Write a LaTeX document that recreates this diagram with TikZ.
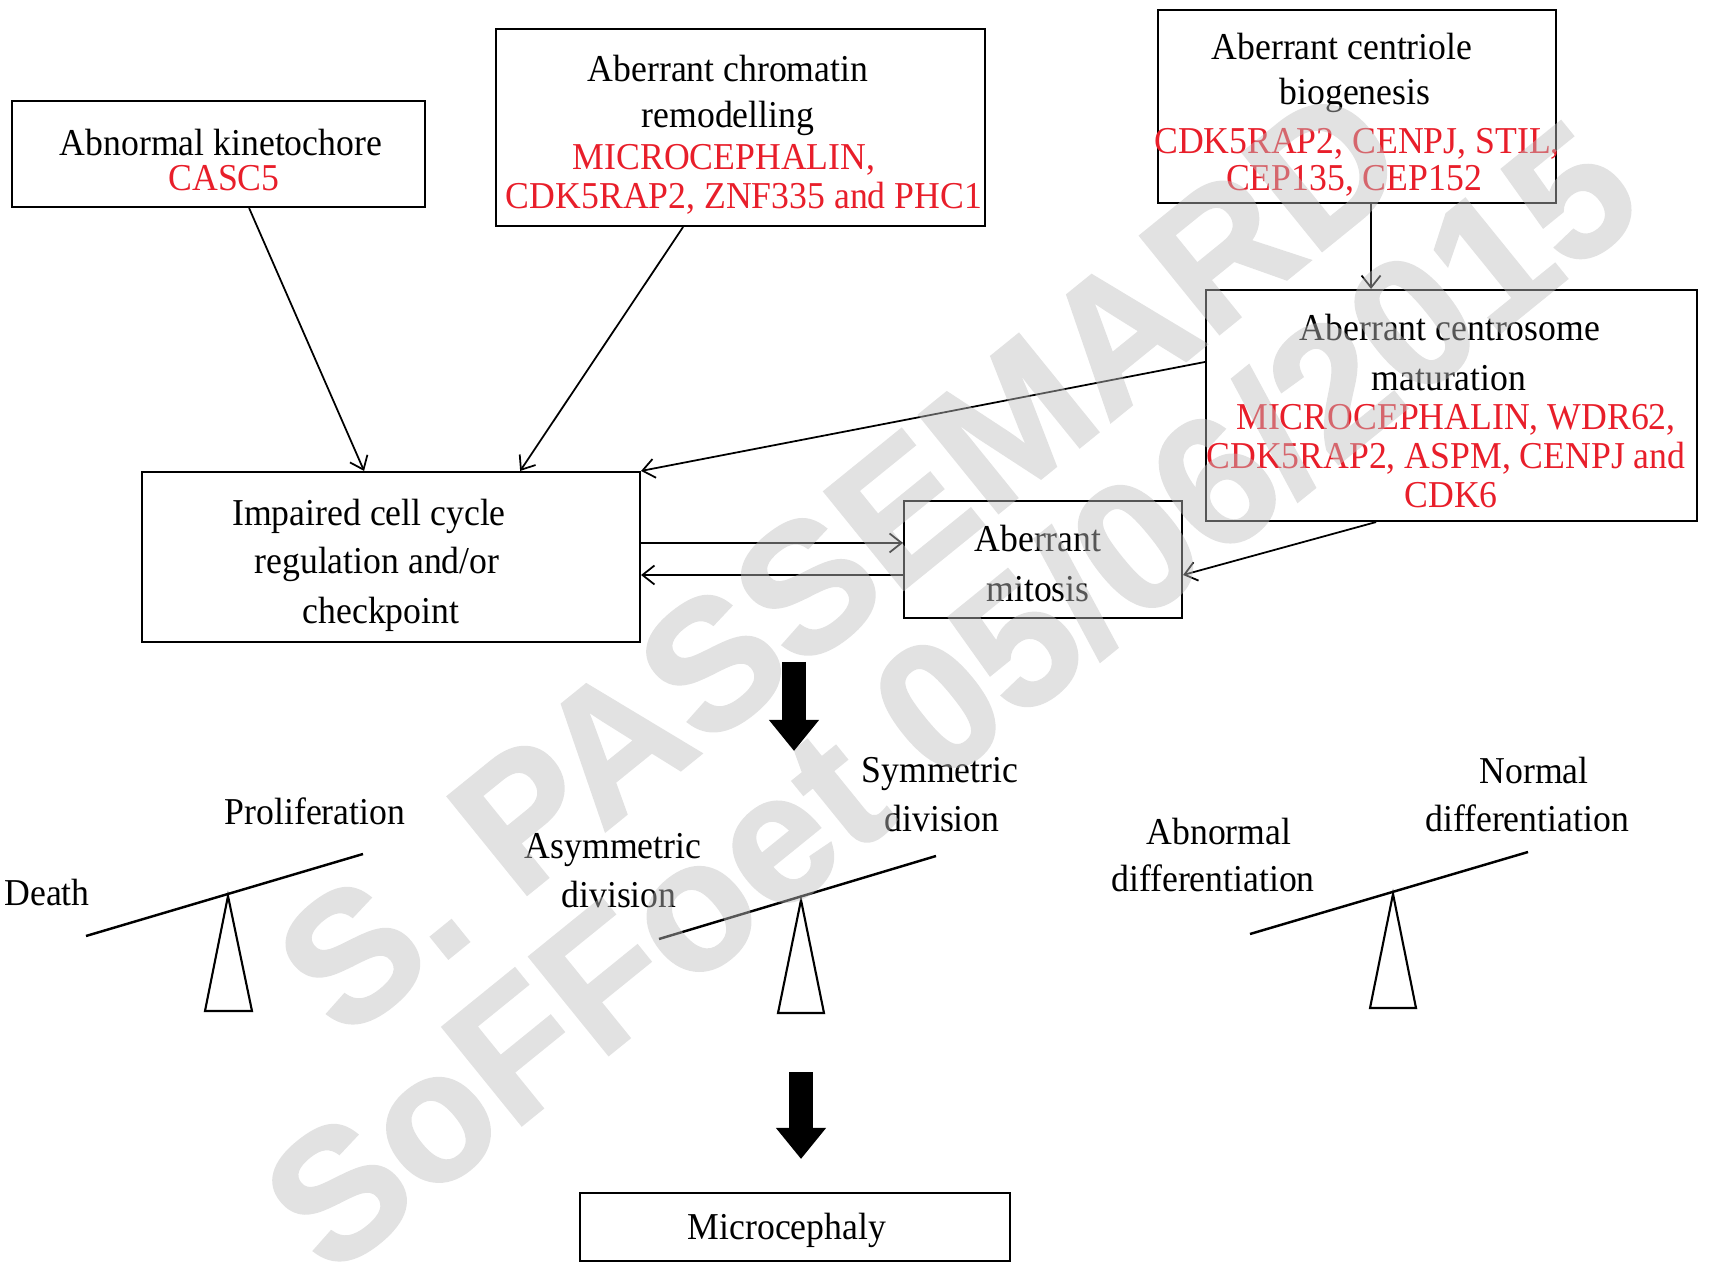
\documentclass[tikz,border=0pt]{standalone}
\usepackage{fontspec}
\setmainfont[FakeStretch=0.94]{Liberation Serif}
\setsansfont{Liberation Sans}
\newfontfamily\wmfont[BoldFeatures={FakeBold=1.5}]{Liberation Sans}
\usetikzlibrary{arrows.meta,fit,calc}
\definecolor{gred}{RGB}{232,30,42}
\begin{document}
\begin{tikzpicture}[x=0.01cm,y=-0.01cm,
  box/.style={draw, line width=0.6pt, inner sep=0pt},
  txt/.style={anchor=base, inner sep=0pt, font=\fontsize{10.8}{12}\selectfont},
  gtxt/.style={txt, text=gred},
  arr/.style={line width=0.5pt, -{Straight Barb[length=1.2mm,width=1.9mm]}},
  beam/.style={line width=0.7pt},
  fulcrum/.style={draw, line width=0.6pt, fill=white, line join=miter},
  bigarr/.style={line width=2.4mm, -{Triangle[length=3.1mm,width=4.8mm]}},
  wm/.style={align=center, text=black!25, inner sep=0pt,
    font=\wmfont\bfseries\fontsize{52}{50}\selectfont}
]
\useasboundingbox (0,0) rectangle (1710,1268);

% boxes
\node[box, fit={(12,101) (425,207)}] (A) {};
\node[box, fit={(496,29) (985,226)}] (B) {};
\node[box, fit={(1158,10) (1556,203)}] (C) {};
\node[box, fit={(1206,290) (1697,521)}] (D) {};
\node[box, fit={(142,472) (640,642)}] (E) {};
\node[box, fit={(904,501) (1182,618)}] (F) {};
\node[box, fit={(580,1193) (1010,1261)}] (G) {};

% box texts
\node[txt] (A1) at (221,156) {Abnormal kinetochore};
\node[gtxt] (A2) at (224,191) {CASC5};

\node[txt] (B1) at (728,82) {Aberrant chromatin};
\node[txt] (B2) at (728,128) {remodelling};
\node[gtxt] (B3) at (724,170) {MICROCEPHALIN,};
\node[gtxt] (B4) at (744,209) {CDK5RAP2, ZNF335 and PHC1};

\node[txt] (C1) at (1342,60) {Aberrant centriole};
\node[txt] (C2) at (1355,105) {biogenesis};
\node[gtxt] (C3) at (1357,154) {CDK5RAP2, CENPJ, STIL,};
\node[gtxt] (C4) at (1354,191) {CEP135, CEP152};

\node[txt] (D1) at (1450,341) {Aberrant centrosome};
\node[txt] (D2) at (1449,391) {maturation};
\node[gtxt] (D3) at (1456,430) {MICROCEPHALIN, WDR62,};
\node[gtxt] (D4) at (1446,469) {CDK5RAP2, ASPM, CENPJ and};
\node[gtxt] (D5) at (1451,508) {CDK6};

\node[txt] (E1) at (369,526) {Impaired cell cycle};
\node[txt] (E2) at (377,574) {regulation and/or};
\node[txt] (E3) at (381,624) {checkpoint};

\node[txt] (F1) at (1038,552) {Aberrant};
\node[txt] (F2) at (1038,602) {mitosis};

\node[txt] (G1) at (787,1239) {Microcephaly};

% connectors
\draw[arr] ([xshift=2.38cm]A.south west) -- ([xshift=2.23cm]E.north west);
\draw[arr] ([xshift=1.88cm]B.south west) -- ([xshift=3.79cm]E.north west);
\draw[arr] ([xshift=2.14cm]C.south west) -- ([xshift=1.66cm]D.north west);
\draw[arr] ([yshift=-0.73cm]D.north west) -- (E.north east);
\draw[arr] ([yshift=-0.72cm]E.north east) -- ([yshift=-0.43cm]F.north west);
\draw[arr] ([yshift=-0.75cm]F.north west) -- ([yshift=-1.04cm]E.north east);
\draw[arr] ([xshift=1.71cm]D.south west) -- ([yshift=-0.75cm]F.north east);

% seesaws
\draw[beam] (86,936) -- (363,854);
\draw[fulcrum] (228,896) -- (252,1011) -- (205,1011) -- cycle;
\draw[beam] (659,939) -- (936,856);
\draw[fulcrum] (801,900) -- (824,1013) -- (778,1013) -- cycle;
\draw[beam] (1250,934) -- (1528,852);
\draw[fulcrum] (1393,894) -- (1416,1008) -- (1370,1008) -- cycle;

% seesaw labels
\node[txt] (l1) at (47,905) {Death};
\node[txt] (l2) at (315,824) {Proliferation};
\node[txt] (l3) at (613,859) {Asymmetric};
\node[txt] (l4) at (619,907) {division};
\node[txt] (l5) at (940,783) {Symmetric};
\node[txt] (l6) at (942,831) {division};
\node[txt] (l7) at (1219,845) {Abnormal};
\node[txt] (l8) at (1213,892) {differentiation};
\node[txt] (l9) at (1534,784) {Normal};
\node[txt] (l10) at (1527,832) {differentiation};

% watermark
\begin{scope}[transparency group, opacity=0.45]
\node[wm, rotate=39] (wmk) at (896,629) {S. PASSEMARD\\SoFFoet 05/06/2015};
\end{scope}

% thick arrows
\coordinate (t1s) at (794,662);
\coordinate (t1e) at (794,751);
\draw[bigarr] (t1s) -- (t1e);
\coordinate (t2s) at (801,1072);
\coordinate (t2e) at (801,1159);
\draw[bigarr] (t2s) -- (t2e);
\end{tikzpicture}
\end{document}
